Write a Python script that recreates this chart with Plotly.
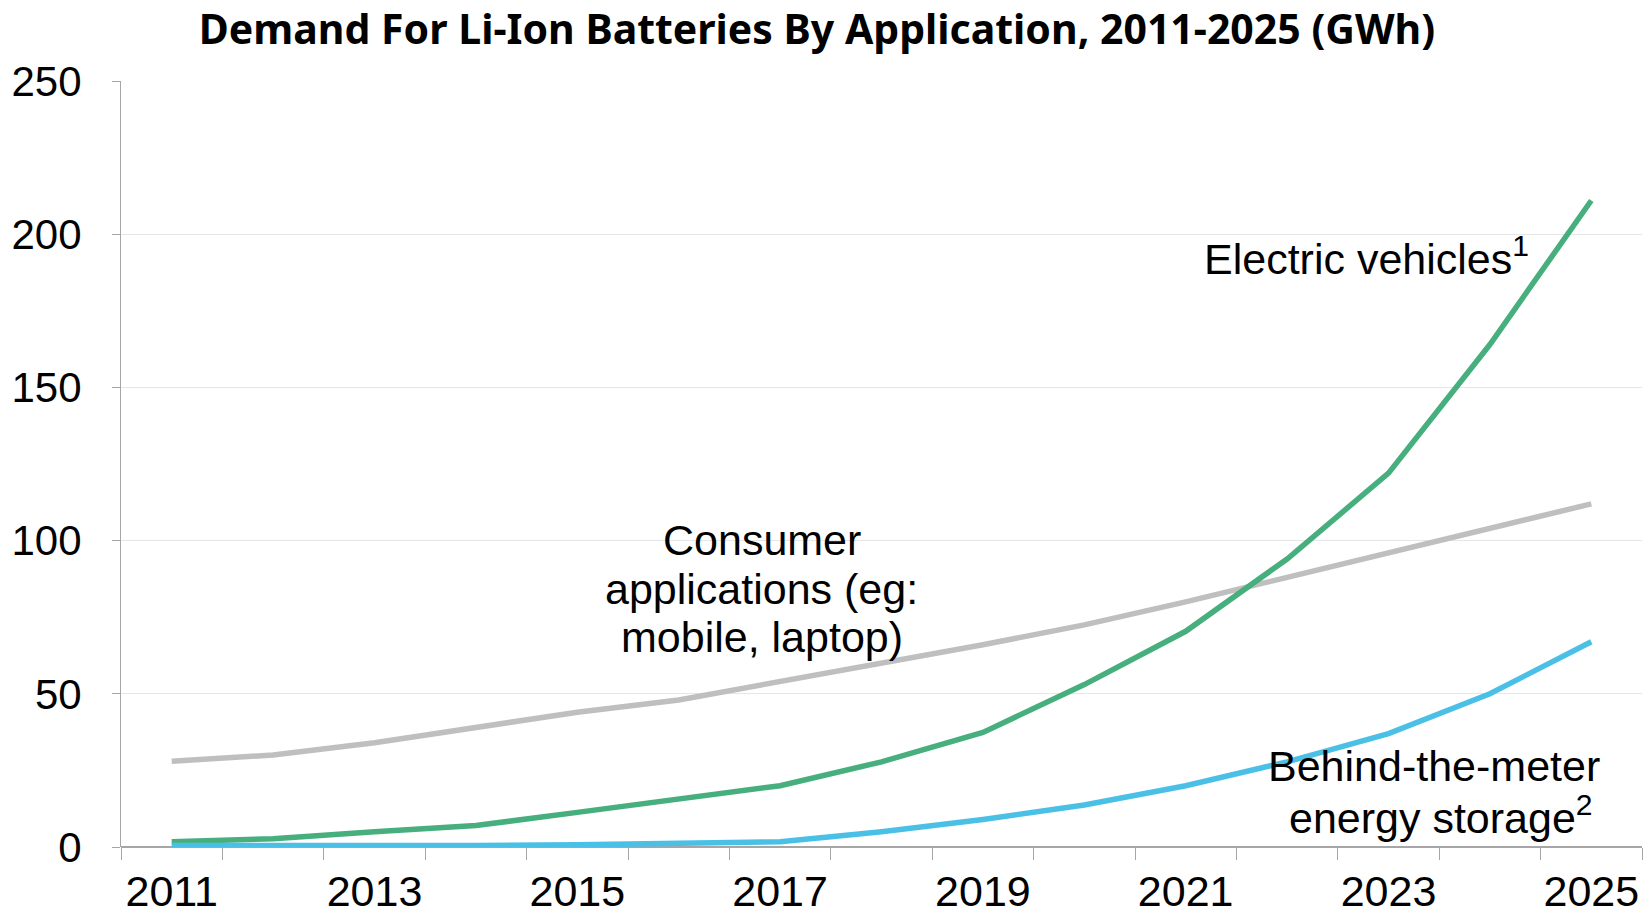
import plotly.graph_objects as go

years = list(range(2011, 2026))
ev = [1.7, 2.7, 5, 7, 11.3, 15.5, 20, 27.8, 37.4, 53, 70.4, 94, 122, 164, 211]
consumer = [28, 30, 34, 39, 44, 48, 54, 60, 66, 72.5, 80, 88, 96, 104, 112]
btm = [0.5, 0.4, 0.4, 0.5, 0.7, 1.0, 1.7, 5, 9, 13.7, 20, 27.8, 37, 50, 67]
tick_years = [2011, 2013, 2015, 2017, 2019, 2021, 2023, 2025]

FONT = "Liberation Sans, Arial, sans-serif"

fig = go.Figure()
fig.add_trace(go.Scatter(x=years, y=consumer, mode="lines", line=dict(color="#BFBFBF", width=5.5), name="Consumer"))
fig.add_trace(go.Scatter(x=years, y=ev, mode="lines", line=dict(color="#46AF7D", width=5.5), name="EV"))
fig.add_trace(go.Scatter(x=years, y=btm, mode="lines", line=dict(color="#4BC0E6", width=5.5), name="BTM"))

ann_font = dict(family=FONT, size=43, color="black")
labels = [
    (2022.78, 193, "Electric vehicles<sup>1</sup>"),
    (2016.82, 100.3, "Consumer"),
    (2016.82, 84.1, "applications (eg:"),
    (2016.82, 68.7, "mobile, laptop)"),
    (2023.45, 26.4, "Behind-the-meter"),
    (2023.52, 10.6, "energy storage<sup>2</sup>"),
]
for x, y, t in labels:
    fig.add_annotation(x=x, y=y, text=t, showarrow=False, font=ann_font, xanchor="center", yanchor="middle")

fig.update_layout(
    width=1650, height=916,
    margin=dict(l=121, r=8, t=81, b=69, autoexpand=False),
    paper_bgcolor="white", plot_bgcolor="white",
    showlegend=False,
    title=dict(text="<b>Demand For Li-Ion Batteries By Application, 2011-2025 (GWh)</b>",
               x=817/1650, xanchor="center", y=1-30/916, yanchor="middle",
               font=dict(family="Noto Sans, Open Sans, sans-serif", size=41, color="black")),
    xaxis=dict(range=[2010.5, 2025.5], tickvals=tick_years, ticktext=[str(y) for y in tick_years],
               ticks="", showgrid=False, zeroline=False, showline=False, automargin=False,
               tickfont=dict(family=FONT, size=43, color="black"), ticklabelstandoff=15,
               minor=dict(tick0=2010.5, dtick=1, ticks="outside", ticklen=12, tickcolor="#A6A6A6", tickwidth=1, showgrid=False)),
    yaxis=dict(range=[0, 250], tickvals=[0, 50, 100, 150, 200, 250], showgrid=True, gridcolor="#E6E6E6", gridwidth=1,
               zeroline=True, zerolinecolor="#A6A6A6", zerolinewidth=1.5, automargin=False,
               showline=True, linecolor="#A6A6A6", linewidth=1, ticks="outside", ticklen=8, tickcolor="#A6A6A6",
               tickfont=dict(family=FONT, size=42, color="black"), ticklabelstandoff=22),
)

fig.write_html("out.html")
